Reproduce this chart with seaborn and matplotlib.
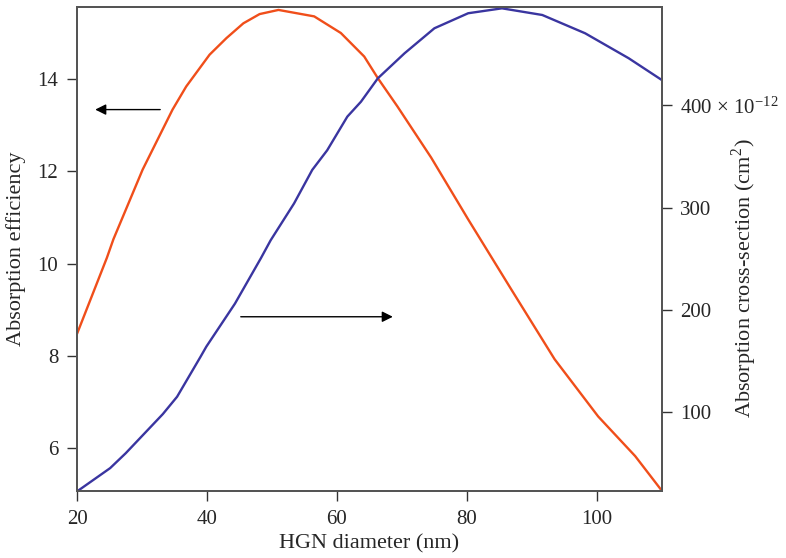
import matplotlib
matplotlib.use("Agg")
import matplotlib.pyplot as plt
import seaborn as sns
import pandas as pd

# Absorption efficiency (left axis)
eff_diam = [20.0, 24.6, 25.6, 30.1, 34.7, 36.8, 40.4, 43.0, 45.6, 48.1, 51.0, 56.5,
            60.6, 64.2, 66.3, 69.3, 74.5, 80.2, 86.8, 93.5, 100.2, 105.9, 110.0]
eff_vals = [8.48, 10.13, 10.53, 12.04, 13.34, 13.84, 14.53, 14.89, 15.21, 15.41, 15.50, 15.36,
            15.00, 14.49, 14.02, 13.41, 12.30, 10.96, 9.45, 7.93, 6.69, 5.83, 5.08]

# Absorption cross-section (right axis, units of 1e-12 cm^2)
cs_diam = [20.2, 25.1, 27.5, 33.2, 35.4, 39.0, 39.9, 44.3, 48.3, 49.8, 53.4, 56.2, 58.5,
           61.6, 63.7, 66.3, 70.4, 75.0, 80.2, 85.4, 91.6, 98.2, 104.9, 110.0]
cs_vals = [23.3, 45.2, 59.8, 98.0, 115.0, 154.0, 164.0, 206.0, 250.5, 268.0, 304.0, 336.8, 356.0,
           388.9, 403.5, 426.4, 450.8, 475.3, 490.0, 494.8, 488.3, 470.4, 446.0, 424.7]

x_ticks = [20, 40, 60, 80, 100]
left_ticks = [6, 8, 10, 12, 14]
right_ticks = [100, 200, 300, 400]
right_tick_labels = ["100", "200", "300", "400 \u00d7 10$^{\\mathregular{\u221212}}$"]

sns.set_style("ticks")
plt.rcParams["font.family"] = ["Liberation Serif", "DejaVu Serif"]
plt.rcParams["mathtext.fontset"] = "stix"

fig = plt.figure(figsize=(7.86, 5.58), dpi=100)
ax = fig.add_axes([0.098, 0.1206, 0.744, 0.8674])
ax2 = ax.twinx()

df_eff = pd.DataFrame({"d": eff_diam, "v": eff_vals})
df_cs = pd.DataFrame({"d": cs_diam, "v": cs_vals})

sns.lineplot(data=df_eff, x="d", y="v", ax=ax, color="#F04E1A", lw=1.7, sort=False)
sns.lineplot(data=df_cs, x="d", y="v", ax=ax2, color="#3A35A0", lw=1.7, sort=False)

ax.set_xlim(20, 110)
ax.set_ylim(5.08, 15.57)
ax2.set_ylim(23.1, 496.4)

ax.set_xticks(x_ticks)
ax.set_xticklabels([str(t) for t in x_ticks])
ax.set_yticks(left_ticks)
ax.set_yticklabels([str(t) for t in left_ticks])
ax2.set_yticks(right_ticks)
ax2.set_yticklabels(right_tick_labels)

ax.set_xlabel("HGN diameter (nm)", fontsize=16, labelpad=4)
ax.set_ylabel("Absorption efficiency", fontsize=16)
ax2.set_ylabel("Absorption cross-section (cm$^{\\mathregular{2}}$)", fontsize=16)
ax.yaxis.set_label_coords(-0.088, 0.5)
ax2.yaxis.set_label_coords(1.117, 0.44)

for a in (ax, ax2):
    for s in a.spines.values():
        s.set_color("#555555")
        s.set_linewidth(1.4)
    a.tick_params(axis="both", labelsize=15, length=7, width=1.0, color="#333333",
                  direction="out")

ax.tick_params(axis="y", right=False, pad=6.5)
ax.tick_params(axis="x", top=False, pad=7)
ax2.tick_params(axis="y", left=False, pad=6)

# direction arrows
ax.annotate("", xy=(22.8, 13.34), xytext=(32.8, 13.34),
            arrowprops=dict(arrowstyle="-|>", color="black", lw=1.0, mutation_scale=16,
                            shrinkA=0, shrinkB=0))
ax.annotate("", xy=(68.6, 8.85), xytext=(45.2, 8.85),
            arrowprops=dict(arrowstyle="-|>", color="black", lw=1.0, mutation_scale=16,
                            shrinkA=0, shrinkB=0))

fig.savefig("out.png", dpi=100)
